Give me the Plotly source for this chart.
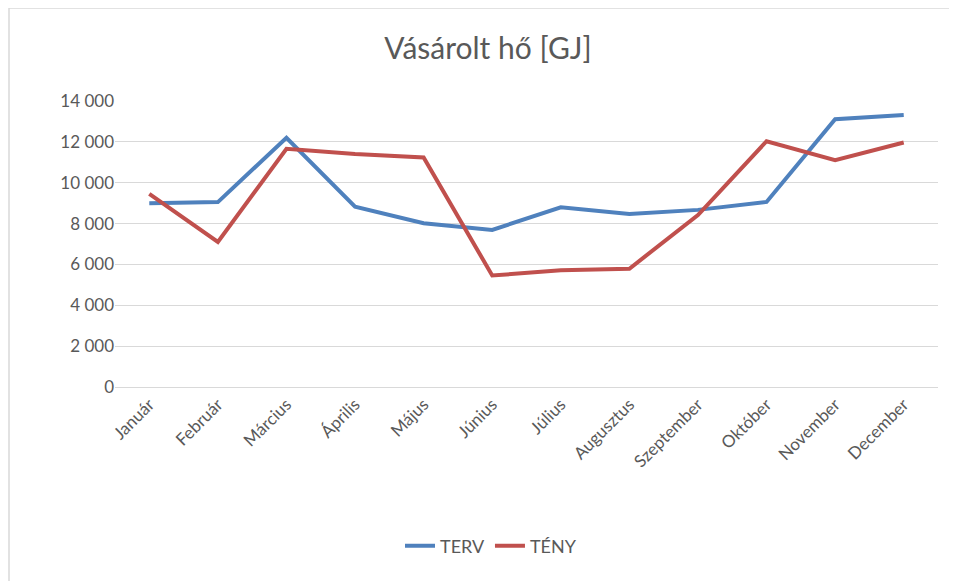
import plotly.graph_objects as go

months = ["Január", "Február", "Március", "Április", "Május", "Június",
          "Július", "Augusztus", "Szeptember", "Október", "November", "December"]
terv = [9000, 9050, 12200, 8830, 8020, 7690, 8800, 8470, 8670, 9060, 13110, 13320]
teny = [9450, 7100, 11660, 11400, 11240, 5460, 5710, 5790, 8420, 12030, 11100, 11970]
y_ticks = [0, 2000, 4000, 6000, 8000, 10000, 12000, 14000]

font_name = "Lato, Open Sans, sans-serif"
grey = "#595959"

fig = go.Figure()
fig.add_trace(go.Scatter(x=months, y=terv, mode="lines", name="TERV",
                         line=dict(color="#4F81BD", width=4)))
fig.add_trace(go.Scatter(x=months, y=teny, mode="lines", name="TÉNY",
                         line=dict(color="#C0504D", width=4)))

# page body has an 8px margin, so figure coords = window coords - 8
OFF = 8
W, H = 957 - OFF, 581 - OFF
L, R, T, B = 115 - OFF, 938 - OFF, 101 - OFF, 387 - OFF
px = lambda v: (v - OFF - L) / (R - L)
py = lambda v: (B - (v - OFF)) / (B - T)

fig.update_layout(
    width=W, height=H,
    margin=dict(l=L, r=W - R, t=T, b=H - B),
    paper_bgcolor="white", plot_bgcolor="white",
    separators=", ",
    font=dict(family=font_name, color=grey, size=16),
    title=dict(text="Vásárolt hő [GJ]", x=(488 - OFF) / W, xanchor="center",
               y=1 - (48 - OFF) / H, yanchor="middle",
               font=dict(size=30, color=grey, family=font_name)),
    xaxis=dict(type="category", range=[-0.5, 11.5], showgrid=False,
               showline=True, linecolor="#d9d9d9", linewidth=1,
               tickangle=-45, ticks="", tickfont=dict(size=17, color=grey)),
    yaxis=dict(range=[0, 14000], tickvals=y_ticks, tickformat=",d",
               showgrid=True, gridcolor="#d9d9d9", gridwidth=1,
               zeroline=False, showline=False, ticks="", ticklen=0,
               tickfont=dict(size=17, color=grey)),
    legend=dict(orientation="h", x=px(491), xanchor="center",
                y=py(546), yanchor="middle",
                font=dict(size=18, color=grey)),
    shapes=[
        dict(type="line", xref="paper", yref="paper",
             x0=px(9), x1=px(957), y0=py(8), y1=py(8),
             line=dict(color="#d9d9d9", width=1.5)),
        dict(type="line", xref="paper", yref="paper",
             x0=px(9), x1=px(9), y0=py(8), y1=py(581),
             line=dict(color="#d9d9d9", width=1.5)),
    ],
)

fig.write_html("out.html")
